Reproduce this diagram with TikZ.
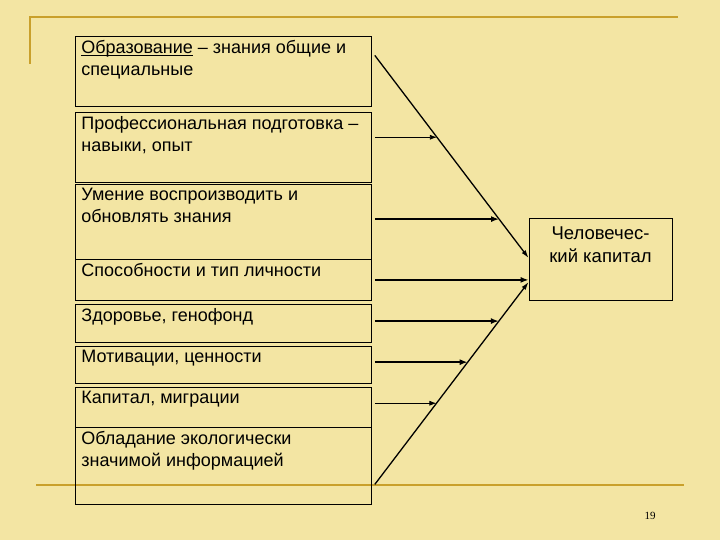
\documentclass[tikz,border=0pt]{standalone}
\usepackage{fontspec}
\setmainfont{Liberation Sans}
\newfontfamily\numfont{Liberation Serif}
\usetikzlibrary{arrows.meta,calc}
\definecolor{bg}{HTML}{F3E5A3}
\definecolor{gold}{HTML}{C9A02B}
\newcommand\myul[1]{\leavevmode\setbox0\hbox{#1}\rlap{\rule[-1.8pt]{\wd0}{0.8pt}}#1}
\newcommand\cellbox[4]{% name, top, height, text
  \node[cell, minimum height=#3pt] (#1) at (75,#2)
    {\parbox[c][\dimexpr #3pt-8pt\relax][t]{296pt}{\raggedright\leftskip=6pt #4}};}
\begin{document}
\begin{tikzpicture}[x=1pt,y=-1pt,
  cell/.style={draw=black, line width=0.8pt, anchor=north west,
    minimum width=296pt, inner xsep=0pt, inner ysep=4pt,
    font=\fontsize{18}{22}\selectfont},
  result/.style={draw=black, line width=0.8pt, minimum width=143pt,
    minimum height=82pt, inner sep=0pt, align=center,
    font=\fontsize{18.5}{23}\selectfont},
  arr/.style={draw=black, line width=1.3pt, -{Latex[length=8pt,width=5pt]}},
  arrthin/.style={draw=black, line width=0.8pt, -{Latex[length=7pt,width=5pt]}},
  arrthick/.style={draw=black, line width=1.8pt, -{Latex[length=8pt,width=6pt]}},
  goldline/.style={draw=gold, line width=2.6pt}]
\fill[bg] (0,0) rectangle (720,540);
\useasboundingbox (0,0) rectangle (720,540);
% gold frame lines
\draw[goldline] (30,64) -- (30,17) -- (678,17);
\draw[goldline] (36,485) -- (684,485);
% left boxes
\cellbox{b1}{36}{70}{\myul{Образование} – знания общие и специальные}
\cellbox{b2}{112}{70}{Профессиональная подготовка – навыки, опыт}
\cellbox{b3}{184}{75}{Умение воспроизводить и обновлять знания}
\cellbox{b4}{259}{41}{Способности и тип личности}
\cellbox{b5}{304}{38}{Здоровье, генофонд}
\cellbox{b6}{346}{37}{Мотивации, ценности}
\cellbox{b7}{387}{40}{Капитал, миграции}
\cellbox{b8}{427}{77}{Обладание экологически значимой информацией}
% result box
\node[result] (hk) at (600.5,259)
  {\parbox[c][64pt][t]{143pt}{\centering Человечес-\\кий капитал}};
% diagonals
\coordinate (d1s) at ([shift={(3,-16)}]b1.east);
\coordinate (d1e) at ([shift={(0,-1)}]hk.west);
\coordinate (d2s) at ([shift={(3,18.5)}]b8.east);
\coordinate (d2e) at ([shift={(0,23)}]hk.west);
\draw[arr] (d1s) -- (d1e);
\draw[arr] (d2s) -- (d2e);
% points on diagonals
\coordinate (e2) at ($(d1s)!0.404!(d1e)$);
\coordinate (e3) at ($(d1s)!0.808!(d1e)$);
\coordinate (e5) at ($(d2s)!0.807!(d2e)$);
\coordinate (e6) at ($(d2s)!0.604!(d2e)$);
\coordinate (e7) at ($(d2s)!0.401!(d2e)$);
% horizontal arrows
\draw[arrthin, shorten <=3pt] (b2.east |- e2) -- (e2);
\draw[arrthick, shorten <=3pt] (b3.east |- e3) -- (e3);
\draw[arrthick, shorten <=3pt] (b4.east) -- (hk.west |- b4.east);
\draw[arrthick, shorten <=3pt] (b5.east |- e5) -- (e5);
\draw[arrthick, shorten <=3pt] (b6.east |- e6) -- (e6);
\draw[arrthin, shorten <=3pt] (b7.east |- e7) -- (e7);
% page number
\node[font=\numfont\fontsize{11}{13}\selectfont] (pg) at (650,516) {19};
\end{tikzpicture}
\end{document}
